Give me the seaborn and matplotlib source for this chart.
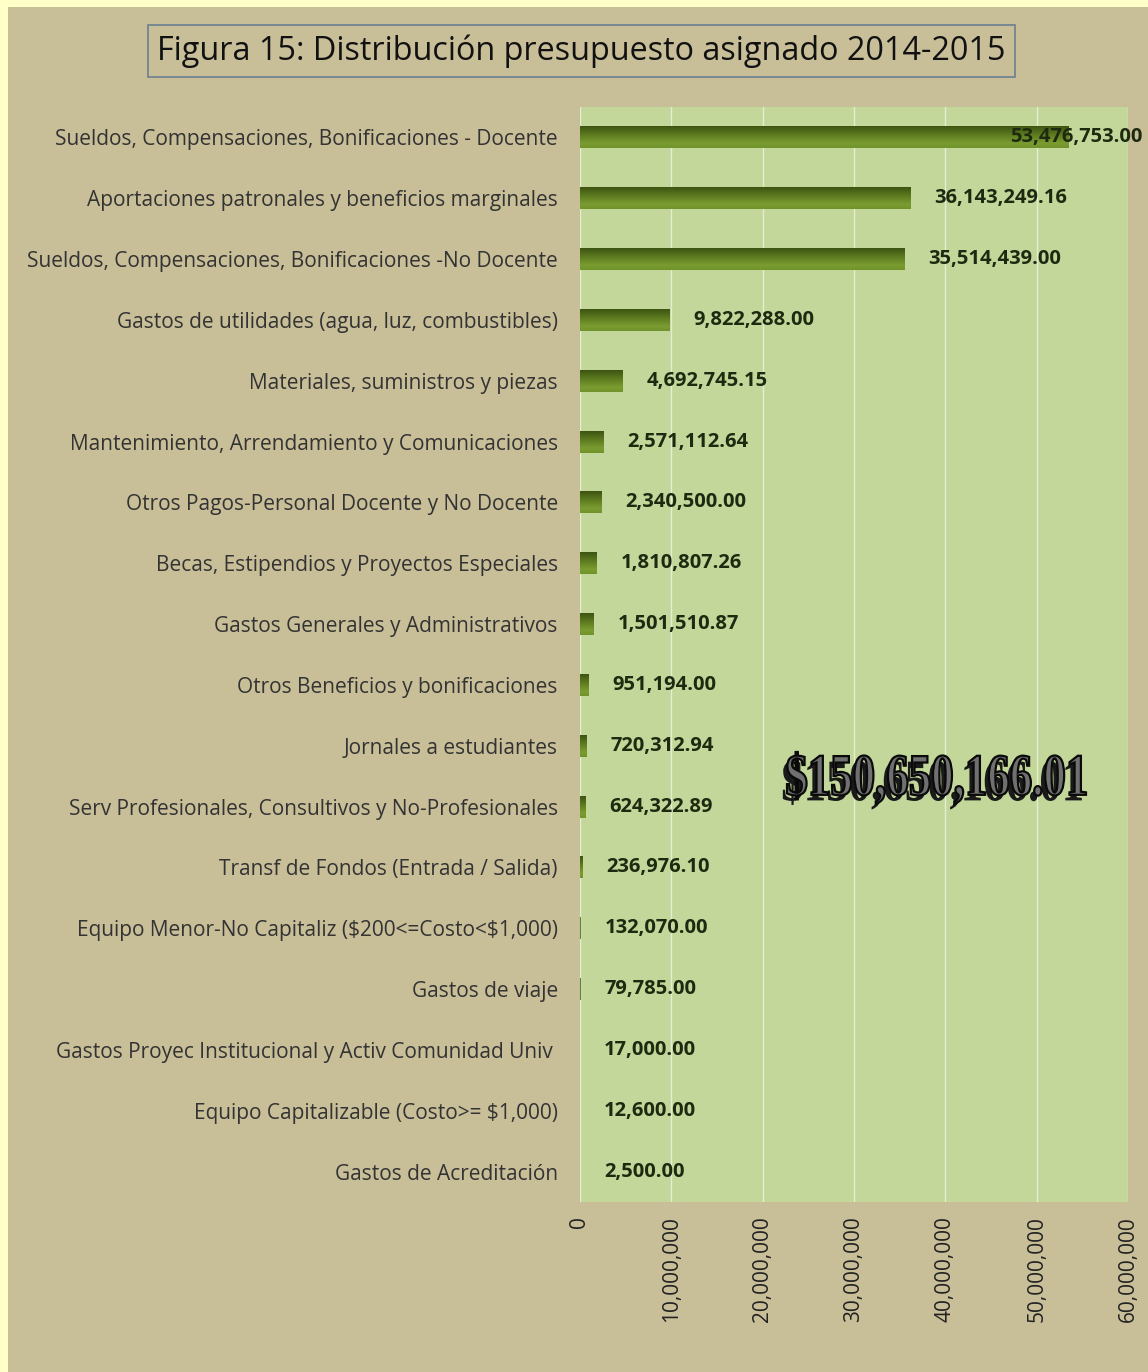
import numpy as np
import pandas as pd
import matplotlib
matplotlib.use("Agg")
import matplotlib.pyplot as plt
import matplotlib.patheffects as pe
from matplotlib.patches import Rectangle, PathPatch
from matplotlib.textpath import TextPath
from matplotlib.font_manager import FontProperties
from matplotlib.transforms import Affine2D, IdentityTransform
from matplotlib.ticker import FuncFormatter
import seaborn as sns

# ---- datos ----
categorias = [
    "Sueldos, Compensaciones, Bonificaciones - Docente",
    "Aportaciones patronales y beneficios marginales",
    "Sueldos, Compensaciones, Bonificaciones -No Docente",
    "Gastos de utilidades (agua, luz, combustibles)",
    "Materiales, suministros y piezas",
    "Mantenimiento, Arrendamiento y Comunicaciones",
    "Otros Pagos-Personal Docente y No Docente",
    "Becas, Estipendios y Proyectos Especiales",
    "Gastos Generales y Administrativos",
    "Otros Beneficios y bonificaciones",
    "Jornales a estudiantes",
    "Serv Profesionales, Consultivos y No-Profesionales",
    "Transf de Fondos (Entrada / Salida)",
    "Equipo Menor-No Capitaliz ($200<=Costo<$1,000)",
    "Gastos de viaje",
    "Gastos Proyec Institucional y Activ Comunidad Univ ",
    "Equipo Capitalizable (Costo>= $1,000)",
    "Gastos de Acreditación",
]
montos = [53476753.00, 36143249.16, 35514439.00, 9822288.00, 4692745.15,
          2571112.64, 2340500.00, 1810807.26, 1501510.87, 951194.00,
          720312.94, 624322.89, 236976.10, 132070.00, 79785.00,
          17000.00, 12600.00, 2500.00]
total_txt = "$150,650,166.01"
titulo = "Figura 15: Distribución presupuesto asignado 2014-2015"

df = pd.DataFrame({"categoria": categorias, "monto": montos})

sns.set_style("white")
plt.rcParams["font.family"] = ["Open Sans", "DejaVu Sans"]
plt.rcParams["text.parse_math"] = False

W, H = 1148, 1372
fig = plt.figure(figsize=(W / 100, H / 100), dpi=100)
fig.patch.set_facecolor("#FFFFC8")
fig.add_artist(Rectangle((8 / W, 0), 1, 1 - 7 / H, transform=fig.transFigure,
                         facecolor="#C8BE98", edgecolor="none", zorder=0))

ax = fig.add_axes([580 / W, 1 - 1202 / H, 548 / W, 1095 / H])
ax.set_facecolor("#C3D79A")
sns.barplot(data=df, y="categoria", x="monto", orient="h", width=0.36,
            color="#6A8A26", ax=ax, zorder=3)

# degradado en las barras
grad = np.linspace(0, 1, 64)
cols = np.array([[0.24, 0.33, 0.07], [0.38, 0.50, 0.13], [0.48, 0.61, 0.19], [0.44, 0.58, 0.17]])
stops = np.array([0.0, 0.45, 0.78, 1.0])
img = np.stack([np.interp(grad, stops, cols[:, i]) for i in range(3)], axis=1)[:, None, :]
px = 60000000 / 548
for p in ax.patches:
    p.set_edgecolor("none")
    p.set_linewidth(0)
    x0, y0 = p.get_x(), p.get_y()
    w, h = p.get_width(), p.get_height()
    if w < 2 * px:
        continue
    im = ax.imshow(img, extent=[x0, x0 + w, y0 + h, y0], origin="upper",
                   aspect="auto", zorder=4, interpolation="bilinear")
    im.set_clip_path(p)
    p.set_facecolor("none")

ax.set_xlim(0, 60000000)
ax.set_ylim(17.5, -0.5)
ax.set_xticks(np.arange(0, 60000001, 10000000))
ax.xaxis.set_major_formatter(FuncFormatter(lambda v, _: f"{v:,.0f}"))
ax.grid(axis="x", color="#E6EED2", linewidth=1.0, zorder=1)
ax.set_axisbelow(True)
for s in ax.spines.values():
    s.set_visible(False)
ax.set_xlabel("")
ax.set_ylabel("")
ax.tick_params(axis="x", labelrotation=90, labelsize=15, colors="#222222",
               length=0, pad=10)
ax.tick_params(axis="y", labelsize=15, colors="#333333", length=0, pad=16)
for t in ax.get_xticklabels():
    t.set_verticalalignment("top")

# etiquetas de valores
for i, v in enumerate(montos):
    txt = f"{v:,.2f}"
    if v > 50000000:
        ax.text(60000000 + 14 * px, i, txt, ha="right", va="center",
                fontsize=14.5, fontweight="bold", color="#1E2A10", zorder=6,
                clip_on=False)
    else:
        ax.text(v + 24 * px, i, txt, ha="left", va="center", fontsize=14.5,
                fontweight="bold", color="#1E2A10", zorder=6)

# total grande (texto serif condensado con sombra)
tp = TextPath((0, 0), total_txt, size=100,
              prop=FontProperties(family="Liberation Serif", weight="bold"))
ext = tp.get_extents()
bx0, bx1, by_top, by_bot = 787, 1086, 752, 804
sx = (bx1 - bx0) / ext.width
sy = (by_bot - by_top) / ext.height
tr = Affine2D().translate(-ext.x0, -ext.y0).scale(sx, sy).translate(bx0, H - by_bot)
big = PathPatch(tr.transform_path(tp), facecolor="#707070", edgecolor="#0A0A0A",
                linewidth=1.6, zorder=8, transform=IdentityTransform())
big.set_path_effects([pe.SimplePatchShadow(offset=(-3, -4), shadow_rgbFace="#1A1A1A", alpha=1.0),
                      pe.Normal()])
fig.add_artist(big)

# titulo con marco
fig.text(581.5 / W, 1 - 51 / H, titulo, ha="center", va="center", fontsize=23.3,
         color="#111111",
         bbox=dict(boxstyle="square,pad=0.3", facecolor="#C8BE98",
                   edgecolor="#6C7F90", linewidth=1.2))

fig.savefig("out.png", dpi=100, facecolor=fig.get_facecolor())
